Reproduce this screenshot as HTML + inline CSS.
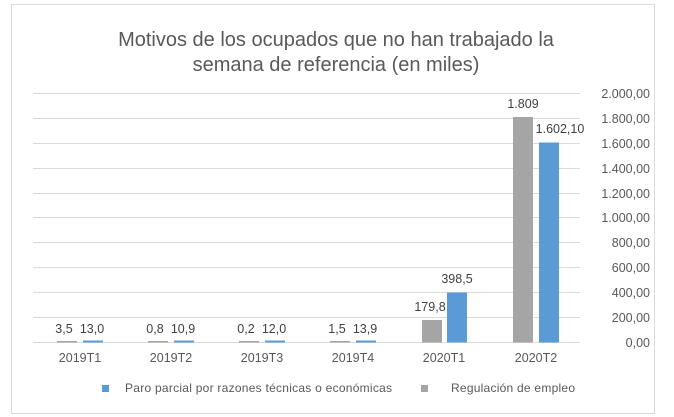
<!DOCTYPE html>
<html><head><meta charset="utf-8"><style>
body{margin:0;background:#fff;}
svg{display:block;font-family:"Liberation Sans",sans-serif;}
</style></head><body>
<svg width="674" height="417" xmlns="http://www.w3.org/2000/svg">
<rect x="11.5" y="4.5" width="643" height="409" fill="#fff" stroke="#d9d9d9"/>
<text x="336" y="46" font-size="20" fill="#595959" text-anchor="middle">Motivos de los ocupados que no han trabajado la</text>
<text x="336" y="71" font-size="20" fill="#595959" text-anchor="middle">semana de referencia (en miles)</text>
<g stroke="#d9d9d9" stroke-width="1">
<line x1="33" x2="580" y1="93.5" y2="93.5"/>
<line x1="33" x2="580" y1="118.5" y2="118.5"/>
<line x1="33" x2="580" y1="143.5" y2="143.5"/>
<line x1="33" x2="580" y1="168.5" y2="168.5"/>
<line x1="33" x2="580" y1="193.5" y2="193.5"/>
<line x1="33" x2="580" y1="217.5" y2="217.5"/>
<line x1="33" x2="580" y1="242.5" y2="242.5"/>
<line x1="33" x2="580" y1="267.5" y2="267.5"/>
<line x1="33" x2="580" y1="292.5" y2="292.5"/>
<line x1="33" x2="580" y1="317.5" y2="317.5"/>
<line x1="33" x2="580" y1="342.5" y2="342.5"/>
</g>
<g font-size="12.5" fill="#595959" text-anchor="end">
<text x="650" y="98">2.000,00</text><text x="650" y="123">1.800,00</text>
<text x="650" y="148">1.600,00</text><text x="650" y="173">1.400,00</text>
<text x="650" y="198">1.200,00</text><text x="650" y="222">1.000,00</text>
<text x="650" y="247">800,00</text><text x="650" y="272">600,00</text>
<text x="650" y="297">400,00</text><text x="650" y="322">200,00</text>
<text x="650" y="347">0,00</text>
</g>
<g fill="#a5a5a5">
<rect x="57" y="341" width="20" height="1.5"/>
<rect x="148" y="341" width="20" height="1.5"/>
<rect x="239" y="341" width="20" height="1.5"/>
<rect x="330" y="341" width="20" height="1.5"/>
<rect x="422" y="320" width="20" height="22.5"/>
<rect x="513" y="117" width="20" height="225.5"/>
</g>
<g fill="#5b9bd5">
<rect x="83" y="340.5" width="20" height="2"/>
<rect x="174" y="340.5" width="20" height="2"/>
<rect x="265" y="340.5" width="20" height="2"/>
<rect x="356" y="340.5" width="20" height="2"/>
<rect x="447" y="292.5" width="20" height="50"/>
<rect x="539" y="142.5" width="20" height="200"/>
</g>
<g font-size="12.5" fill="#404040" text-anchor="middle">
<text x="64" y="333">3,5</text><text x="92" y="333">13,0</text>
<text x="155" y="333">0,8</text><text x="183" y="333">10,9</text>
<text x="246" y="333">0,2</text><text x="274" y="333">12,0</text>
<text x="337" y="333">1,5</text><text x="365" y="333">13,9</text>
<text x="430" y="311">179,8</text><text x="457" y="283">398,5</text>
<text x="523" y="108">1.809</text><text x="560" y="133">1.602,10</text>
</g>
<g font-size="12.5" fill="#595959" text-anchor="middle">
<text x="80" y="362">2019T1</text><text x="171" y="362">2019T2</text>
<text x="262" y="362">2019T3</text><text x="353" y="362">2019T4</text>
<text x="444" y="362">2020T1</text><text x="536" y="362">2020T2</text>
</g>
<rect x="102" y="385" width="7" height="7" fill="#5b9bd5"/>
<text x="125" y="392" font-size="12" fill="#595959" textLength="267">Paro parcial por razones técnicas o económicas</text>
<rect x="421" y="385" width="7" height="7" fill="#a5a5a5"/>
<text x="451" y="392" font-size="12" fill="#595959" textLength="124">Regulación de empleo</text>
</svg>
</body></html>
